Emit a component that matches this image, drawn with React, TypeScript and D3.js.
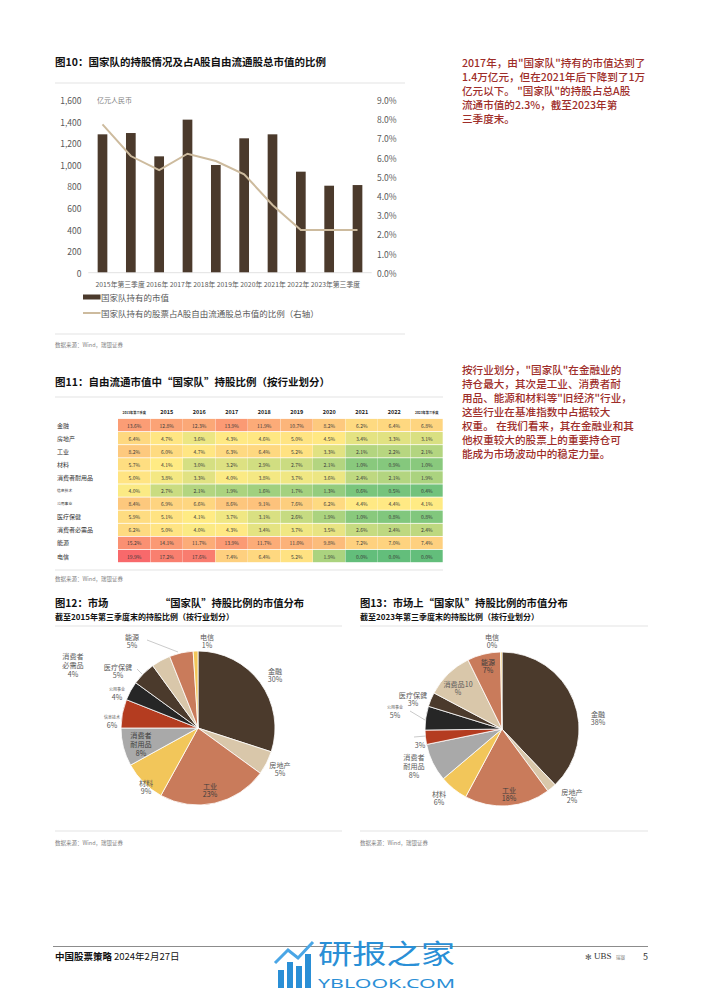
import React from 'react';
import * as d3 from 'd3';

const FONT = '"Noto Sans CJK SC", "Noto Sans", sans-serif';

// ---------- Figure 10 data ----------
const barCategories = ['2015年第三季度', '2015年', '2016年', '2017年', '2018年', '2019年', '2020年', '2021年', '2022年', '2023年第三季度'];
const holdingValues = [1282, 1294, 1078, 1418, 998, 1245, 1282, 936, 806, 812];
const holdingRatio = [7.73, 6.08, 5.34, 6.2, 5.82, 5.13, 3.53, 2.23, 2.23, 2.23];
const leftTicks = [0, 200, 400, 600, 800, 1000, 1200, 1400, 1600];
const rightTicks = [0, 1, 2, 3, 4, 5, 6, 7, 8, 9];
const xAxisLabels = ['2015年第三季度', '2016年', '2017年', '2018年', '2019年', '2020年', '2021年', '2022年', '2023年第三季度'];

// ---------- Figure 11 data ----------
const sectors = ['金融', '房地产', '工业', '材料', '消费者耐用品', '信息技术', '公用事业', '医疗保健', '消费者必需品', '能源', '电信'];
const tableColumns = ['2015年第三季度', '2015', '2016', '2017', '2018', '2019', '2020', '2021', '2022', '2023年第三季度'];
const rowFinance = [13.6, 12.8, 12.3, 13.9, 11.9, 10.7, 8.2, 6.2, 6.4, 6.8];
const rowRealEstate = [6.4, 4.7, 3.6, 4.3, 4.6, 5.0, 4.5, 3.4, 3.3, 3.1];
const rowIndustrial = [8.2, 6.0, 4.7, 6.3, 6.4, 5.2, 3.3, 2.1, 2.2, 2.1];
const rowMaterials = [5.7, 4.1, 3.0, 3.2, 2.9, 2.7, 2.1, 1.0, 0.9, 1.0];
const rowDurables = [5.0, 3.8, 3.3, 4.0, 3.8, 3.7, 3.6, 2.4, 2.1, 1.9];
const rowIT = [4.0, 2.7, 2.1, 1.9, 1.6, 1.7, 1.3, 0.6, 0.5, 0.4];
const rowUtilities = [8.4, 6.9, 6.6, 8.6, 9.1, 7.6, 6.2, 4.4, 4.4, 4.1];
const rowHealth = [5.9, 5.1, 4.1, 3.7, 3.1, 2.6, 1.9, 1.0, 0.8, 0.8];
const rowStaples = [6.2, 5.0, 4.0, 4.3, 3.4, 3.7, 3.5, 2.6, 2.4, 2.4];
const rowEnergy = [15.2, 14.1, 11.7, 13.9, 11.7, 11.0, 9.8, 7.2, 7.0, 7.4];
const rowTelecom = [19.9, 17.2, 17.6, 7.4, 6.4, 5.2, 1.9, 0.0, 0.0, 0.0];
const tableValues = [rowFinance, rowRealEstate, rowIndustrial, rowMaterials, rowDurables, rowIT, rowUtilities, rowHealth, rowStaples, rowEnergy, rowTelecom];

// ---------- Figure 12 / 13 data ----------
const pie2015 = [30, 5, 23, 9, 8, 6, 4, 5, 4, 5, 1];
const pie2023 = [38, 2, 18, 6, 8, 3, 5, 3, 10, 7, 0.3];
const pieColors = ['#4b3a2c', '#d9c7aa', '#c97b5b', '#f2c65a', '#a9a9a9', '#b43c20', '#262626', '#4b3a2c', '#d9c7aa', '#c97b5b', '#f2c65a'];

// ---------- Text ----------
const note1 = [
  '2017年，由"国家队"持有的市值达到了',
  '1.4万亿元，但在2021年后下降到了1万',
  '亿元以下。 "国家队"的持股占总A股',
  '流通市值的2.3%，截至2023年第',
  '三季度末。',
];
const note2 = [
  '按行业划分，"国家队"在金融业的',
  '持仓最大，其次是工业、消费者耐',
  '用品、能源和材料等"旧经济"行业，',
  '这些行业在基准指数中占据较大',
  '权重。 在我们看来，其在金融业和其',
  '他权重较大的股票上的重要持仓可',
  '能成为市场波动中的稳定力量。',
];

type LabelSpec = { pre: string[]; dx: number; dy: number; tiny?: boolean; inside?: boolean; pctSuffix?: boolean };

const pie1Labels: LabelSpec[] = [
  { pre: ['金融'], dx: 77, dy: -53 },
  { pre: ['房地产'], dx: 82, dy: 41 },
  { pre: ['工业'], dx: 12, dy: 62, inside: true },
  { pre: ['材料'], dx: -52, dy: 59 },
  { pre: ['消费者', '耐用品'], dx: -57, dy: 16, inside: true },
  { pre: ['信息技术'], dx: -86, dy: -7, tiny: true },
  { pre: ['公用事业'], dx: -81, dy: -35, tiny: true },
  { pre: ['医疗保健'], dx: -80, dy: -57 },
  { pre: ['消费者', '必需品'], dx: -125, dy: -63 },
  { pre: ['能源'], dx: -66, dy: -87 },
  { pre: ['电信'], dx: 9, dy: -87 },
];
const pie2Labels: LabelSpec[] = [
  { pre: ['金融'], dx: 96, dy: -11 },
  { pre: ['房地产'], dx: 70, dy: 67 },
  { pre: ['工业'], dx: 7, dy: 65, inside: true },
  { pre: ['材料'], dx: -63, dy: 69 },
  { pre: ['消费者', '耐用品'], dx: -88, dy: 37 },
  { pre: [], dx: -82, dy: 16 },
  { pre: ['公用事业'], dx: -107, dy: -18, tiny: true },
  { pre: ['医疗保健'], dx: -89, dy: -30 },
  { pre: ['消费品'], dx: -44, dy: -41, pctSuffix: true },
  { pre: ['能源'], dx: -14, dy: -63, inside: true },
  { pre: ['电信'], dx: -10, dy: -88 },
];
const pie1Leaders = [
  [[-51, -88], [-20, -76]],
  [[-61, -59], [-56, -54]],
];
const pie2Leaders = [
  [[-92, -18], [-77, -9]],
  [[-88, 8], [-76, 7]],
];

const R = 77;

function PieChart({ cx, cy, values, labels, leaders }: { cx: number; cy: number; values: number[]; labels: LabelSpec[]; leaders: number[][][] }) {
  const arcs = d3.pie<number>().sort(null).value((d) => d)(values);
  const arc = d3.arc<d3.PieArcDatum<number>>().innerRadius(0).outerRadius(R);
  const pct = d3.format('.0f');
  return (
    <g transform={`translate(${cx},${cy})`}>
      {arcs.map((a, i) => (
        <path key={i} d={arc(a) || ''} fill={pieColors[i]} stroke="#fff" strokeWidth={0.8} />
      ))}
      {leaders.map((l, i) => (
        <line key={'l' + i} x1={l[0][0]} y1={l[0][1]} x2={l[1][0]} y2={l[1][1]} stroke="#a6a6a6" strokeWidth={0.6} />
      ))}
      {labels.map((lb, i) => {
        const p = pct(values[i]) + '%';
        let lines: { t: string; tiny: boolean }[] = lb.pre.map((t) => ({ t, tiny: !!lb.tiny }));
        if (lb.pctSuffix) {
          lines = [{ t: lb.pre[0] + pct(values[i]), tiny: false }, { t: '%', tiny: false }];
        } else {
          lines.push({ t: p, tiny: false });
        }
        const n = lines.length;
        return (
          <g key={'t' + i}>
            {lines.map((ln, j) => (
              <text
                key={j}
                x={lb.dx}
                y={lb.dy + (j - (n - 1) / 2) * 8.8}
                textAnchor="middle"
                dominantBaseline="central"
                fontSize={ln.tiny ? 4 : 7.1}
                fill={lb.inside ? '#3d3d3d' : '#595959'}
              >
                {ln.t}
              </text>
            ))}
          </g>
        );
      })}
    </g>
  );
}

export default function App() {
  // ---- Figure 10 scales ----
  const x = d3.scaleBand<string>().domain(barCategories).range([88.33, 371.67]).paddingInner(0.658).paddingOuter(0.329);
  const yL = d3.scaleLinear().domain([0, 1600]).range([272.7, 100]);
  const yR = d3.scaleLinear().domain([0, 9]).range([272.7, 100]);
  const cxOf = (i: number) => (x(barCategories[i]) as number) + x.bandwidth() / 2;
  const linePath = d3
    .line<number>()
    .x((_, i) => cxOf(i))
    .y((d) => yR(d))(holdingRatio);
  const fmtL = d3.format(',');
  const fmtR = d3.format('.1f');

  // ---- Figure 11 scales ----
  const colX = d3.scaleBand<string>().domain(tableColumns).range([118, 443]);
  const rowY = d3.scaleBand<string>().domain(sectors).range([418.5, 562.6]);
  const flat = tableValues.flat();
  const med = d3.median(flat) as number;
  const color = d3
    .scaleLinear<string>()
    .domain([d3.min(flat) as number, med, d3.max(flat) as number])
    .range(['#63be7b', '#ffeb84', '#f8696b'])
    .interpolate(d3.interpolateRgb);

  const grayLine = '#e3e3e3';

  return (
    <svg width={702} height={992} style={{ position: 'absolute', left: 0, top: 0, background: '#fff' }} fontFamily={FONT}>
      <rect width={702} height={992} fill="#fff" />

      {/* ===== Figure 10 ===== */}
      <text x={55} y={61} fontSize={10.5} fontWeight="bold" fill="#111" dominantBaseline="central">
        图10：国家队的持股情况及占A股自由流通股总市值的比例
      </text>
      <line x1={55} x2={405} y1={83} y2={83} stroke={grayLine} strokeWidth={1} />
      {leftTicks.map((t) => (
        <text key={'lt' + t} x={81.5} y={yL(t)} textAnchor="end" dominantBaseline="central" fontSize={8.5} fill="#595959">
          {fmtL(t)}
        </text>
      ))}
      {rightTicks.map((t) => (
        <text key={'rt' + t} x={377} y={yR(t)} textAnchor="start" dominantBaseline="central" fontSize={8.5} fill="#595959">
          {fmtR(t) + '%'}
        </text>
      ))}
      <text x={97} y={100} fontSize={7} fill="#7f7f7f" dominantBaseline="central">
        亿元人民币
      </text>
      {holdingValues.map((v, i) => (
        <rect key={'b' + i} x={x(barCategories[i])} y={yL(v)} width={x.bandwidth()} height={yL(0) - yL(v)} fill="#4b3a2c" />
      ))}
      <line x1={88.33} x2={371.67} y1={yL(0)} y2={yL(0)} stroke="#d9d9d9" strokeWidth={0.8} />
      <path d={linePath || ''} fill="none" stroke="#cdbb9e" strokeWidth={2} />
      <text x={95.5} y={284} fontSize={6.8} fill="#595959" dominantBaseline="central" textLength={264.5} lengthAdjust="spacing">
        {xAxisLabels.join('  ')}
      </text>
      <rect x={83} y={294.5} width={17.5} height={5} fill="#4b3a2c" />
      <text x={101} y={297} fontSize={8.5} fill="#595959" dominantBaseline="central">
        国家队持有的市值
      </text>
      <line x1={83} x2={100.5} y1={313} y2={313} stroke="#cdbb9e" strokeWidth={2} />
      <text x={101} y={313} fontSize={8.5} fill="#595959" dominantBaseline="central">
        国家队持有的股票占A股自由流通股总市值的比例（右轴）
      </text>
      <line x1={55} x2={405} y1={334} y2={334} stroke={grayLine} strokeWidth={1} />
      <text x={55} y={344.5} fontSize={5.5} fill="#7f7f7f" dominantBaseline="central">
        数据来源：Wind，瑞银证券
      </text>

      {/* ===== Notes ===== */}
      {note1.map((t, i) => (
        <text key={'n1' + i} x={462} y={62.5 + i * 14} fontSize={10.6} fontWeight={500} fill="#9e2d29" dominantBaseline="central">
          {t}
        </text>
      ))}
      {note2.map((t, i) => (
        <text key={'n2' + i} x={462} y={369 + i * 14.15} fontSize={10.6} fontWeight={500} fill="#9e2d29" dominantBaseline="central">
          {t}
        </text>
      ))}

      {/* ===== Figure 11 ===== */}
      <text x={55} y={381} fontSize={10.5} fontWeight="bold" fill="#111" dominantBaseline="central">
        图11：自由流通市值中“国家队”持股比例（按行业划分）
      </text>
      <line x1={55} x2={443} y1={397} y2={397} stroke={grayLine} strokeWidth={1} />
      {tableColumns.map((c, j) => {
        const tiny = c.length > 4;
        return (
          <text
            key={'h' + j}
            x={(colX(c) as number) + colX.bandwidth() / 2}
            y={412}
            textAnchor="middle"
            dominantBaseline="central"
            fontSize={tiny ? 3.2 : 5.5}
            fontWeight="bold"
            fill="#222"
          >
            {c}
          </text>
        );
      })}
      {sectors.map((s, i) => {
        const tiny = s === '信息技术' || s === '公用事业';
        return (
          <text key={'r' + i} x={57} y={(rowY(s) as number) + rowY.bandwidth() / 2} dominantBaseline="central" fontSize={tiny ? 3.8 : 6} fill="#333">
            {s}
          </text>
        );
      })}
      {tableValues.map((row, i) =>
        row.map((v, j) => {
          const cx0 = colX(tableColumns[j]) as number;
          const cy0 = rowY(sectors[i]) as number;
          return (
            <g key={'c' + i + '-' + j}>
              <rect x={cx0} y={cy0 + 0.4} width={colX.bandwidth() - 0.3} height={rowY.bandwidth() - 0.8} fill={color(v)} />
              <text
                x={cx0 + colX.bandwidth() / 2}
                y={cy0 + rowY.bandwidth() / 2}
                textAnchor="middle"
                dominantBaseline="central"
                fontSize={5}
                fill="#3a3a3a"
              >
                {v.toFixed(1) + '%'}
              </text>
            </g>
          );
        })
      )}
      <line x1={55} x2={443} y1={570} y2={570} stroke={grayLine} strokeWidth={1} />
      <text x={55} y={578.5} fontSize={5.5} fill="#7f7f7f" dominantBaseline="central">
        数据来源：Wind，瑞银证券
      </text>

      {/* ===== Figure 12 ===== */}
      <text x={55} y={602} fontSize={10.3} fontWeight="bold" fill="#111" dominantBaseline="central">
        图12：市场
      </text>
      <text x={160} y={602} fontSize={10.3} fontWeight="bold" fill="#111" dominantBaseline="central">
        “国家队”持股比例的市值分布
      </text>
      <text x={55} y={616} fontSize={8} fontWeight="bold" fill="#111" dominantBaseline="central">
        截至2015年第三季度末的持股比例（按行业划分）
      </text>
      <line x1={55} x2={342} y1={626} y2={626} stroke={grayLine} strokeWidth={1} />
      <PieChart cx={198} cy={728} values={pie2015} labels={pie1Labels} leaders={pie1Leaders} />
      <line x1={55} x2={342} y1={831} y2={831} stroke={grayLine} strokeWidth={1} />
      <text x={55} y={843} fontSize={5.5} fill="#7f7f7f" dominantBaseline="central">
        数据来源：Wind，瑞银证券
      </text>

      {/* ===== Figure 13 ===== */}
      <text x={360} y={602} fontSize={10.3} fontWeight="bold" fill="#111" dominantBaseline="central">
        图13：市场上“国家队”持股比例的市值分布
      </text>
      <text x={360} y={616} fontSize={8} fontWeight="bold" fill="#111" dominantBaseline="central">
        截至2023年第三季度末的持股比例（按行业划分）
      </text>
      <line x1={360} x2={648} y1={626} y2={626} stroke={grayLine} strokeWidth={1} />
      <PieChart cx={502} cy={729} values={pie2023} labels={pie2Labels} leaders={pie2Leaders} />
      <line x1={360} x2={648} y1={831} y2={831} stroke={grayLine} strokeWidth={1} />
      <text x={360} y={843} fontSize={5.5} fill="#7f7f7f" dominantBaseline="central">
        数据来源：Wind，瑞银证券
      </text>

      {/* ===== Footer ===== */}
      <line x1={53} x2={648} y1={946.5} y2={946.5} stroke="#8c8c8c" strokeWidth={1.2} />
      <text x={55} y={956} fontSize={9.5} fill="#111" dominantBaseline="central">
        <tspan fontWeight="bold">中国股票策略</tspan>
        <tspan dx={2}>2024年2月27日</tspan>
      </text>
      <text x={585} y={956} fontSize={8} fill="#555" dominantBaseline="central">
        ✻
      </text>
      <text x={594} y={956} fontSize={9} fill="#333" dominantBaseline="central" fontFamily='"Liberation Serif", serif'>
        UBS
      </text>
      <text x={616} y={956.5} fontSize={4.5} fill="#777" dominantBaseline="central">
        瑞银
      </text>
      <text x={643} y={956} fontSize={9} fill="#333" dominantBaseline="central">
        5
      </text>

      {/* watermark */}
      <g fill="#2a8fd6">
        <rect x={278} y={970} width={6} height={18} />
        <rect x={287} y={962} width={6} height={26} />
        <rect x={296} y={966} width={6} height={22} />
        <rect x={305} y={954} width={6} height={34} />
      </g>
      <polyline points="275,963 288,950 298,958 313,942" fill="none" stroke="#4aa6e6" strokeWidth={3} />
      <text x={318} y={964} fontSize={27} fill="#2a8fd6" textLength={137} lengthAdjust="spacingAndGlyphs">
        研报之家
      </text>
      <text x={318} y={987.5} fontSize={12} fill="#2a8fd6" textLength={137} lengthAdjust="spacingAndGlyphs" fontFamily='"Noto Sans", sans-serif'>
        YBLOOK.COM
      </text>
    </svg>
  );
}
